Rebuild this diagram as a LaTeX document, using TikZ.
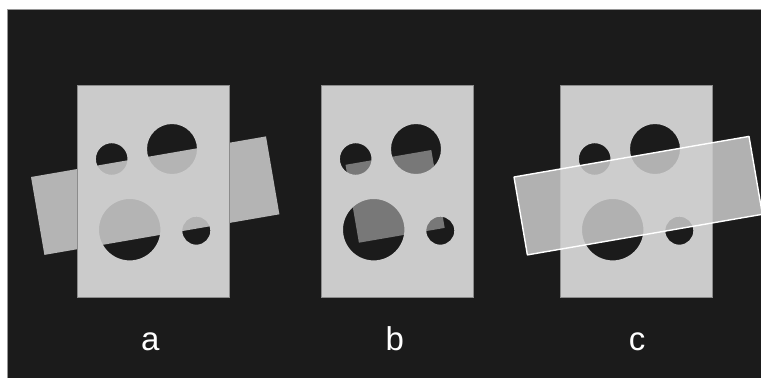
\documentclass[tikz,border=0pt]{standalone}
\usepackage{fontspec}
\setmainfont{Liberation Sans}
\definecolor{bg}{RGB}{27,27,27}
\definecolor{sheet}{RGB}{203,203,203}
\definecolor{sheetedge}{RGB}{140,140,140}
\definecolor{bandgray}{RGB}{180,180,180}
\definecolor{banddark}{RGB}{120,120,120}
\definecolor{bandlight}{RGB}{206,206,206}
\definecolor{frameline}{RGB}{150,150,150}
\tikzset{
  sheetfill/.style={fill=sheet, even odd rule},
  sheetborder/.style={draw=sheetedge, line width=0.8pt},
  lbl/.style={text=white, font=\fontsize{33}{33}\selectfont, anchor=base, inner sep=0pt},
  glassband/.style={fill=bandlight, fill opacity=0.84, draw=white, line width=1.4pt, line join=round}
}
\begin{document}
\begin{tikzpicture}[x=1pt,y=-1pt]
\useasboundingbox (0,0) rectangle (761,378);
\fill[white] (0,0) rectangle (761,378);
\fill[bg] (7.5,9.5) rectangle (761,378);
\draw[frameline, line width=0.8pt] (7.5,378) -- (7.5,9.5) -- (761,9.5);
\begin{scope}
\clip (7.5,9.5) rectangle (761,378);
% ---------- panel a ----------
\fill[bandgray] (31,177) -- (266,136.4) -- (279.4,214.3) -- (44.4,254.9) -- cycle;
\fill[sheetfill] (77,85) rectangle (229,297)
  (111.7,159) circle[radius=15.8pt]
  (172,149) circle[radius=25pt]
  (129.7,229.7) circle[radius=30.7pt]
  (196.3,230.7) circle[radius=14pt];
\draw[sheetborder] (77,85) rectangle (229,297);
% ---------- panel b ----------
\fill[banddark] (345.5,164.8) -- (431.3,150.0) -- (444.7,227.9) -- (358.9,242.7) -- cycle;
\begin{scope}[xshift=244pt]
\fill[sheetfill] (77,85) rectangle (229,297)
  (111.7,159) circle[radius=15.8pt]
  (172,149) circle[radius=25pt]
  (129.7,229.7) circle[radius=30.7pt]
  (196.3,230.7) circle[radius=14pt];
\draw[sheetborder] (77,85) rectangle (229,297);
\end{scope}
% ---------- panel c ----------
\begin{scope}[xshift=483pt]
\fill[sheetfill] (77,85) rectangle (229,297)
  (111.7,159) circle[radius=15.8pt]
  (172,149) circle[radius=25pt]
  (129.7,229.7) circle[radius=30.7pt]
  (196.3,230.7) circle[radius=14pt];
\draw[sheetborder] (77,85) rectangle (229,297);
\path[glassband] (31,177) -- (266,136.4) -- (279.4,214.3) -- (44.4,254.9) -- cycle;
\end{scope}
\end{scope}
% ---------- labels ----------
\node[lbl] (la) at (150.2,350) {a};
\node[lbl] (lb) at (394.7,350) {b};
\node[lbl] (lc) at (637,350) {c};
\end{tikzpicture}
\end{document}
